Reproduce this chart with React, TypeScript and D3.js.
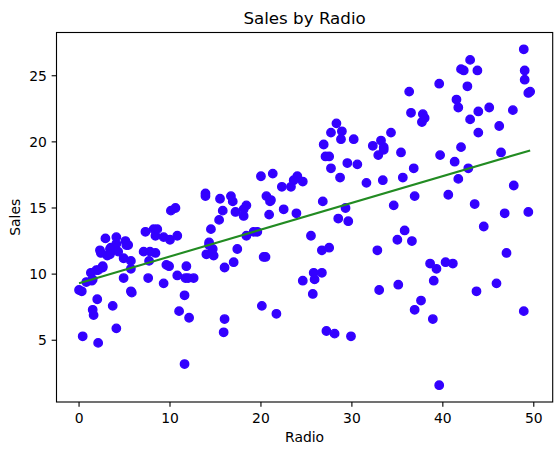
import React from 'react';
import * as d3 from 'd3';

// Radio budget and Sales for each market (200 rows)
const radio: number[] = [
  37.8, 39.3, 45.9, 41.3, 10.8, 48.9, 32.8, 19.6, 2.1, 2.6,
  5.8, 24, 35.1, 7.6, 32.9, 47.7, 36.6, 39.6, 20.5, 23.9,
  27.7, 5.1, 15.9, 16.9, 12.6, 3.5, 29.3, 16.7, 27.1, 16,
  28.3, 17.4, 1.5, 20, 1.4, 4.1, 43.8, 49.4, 26.7, 37.7,
  22.3, 33.4, 27.7, 8.4, 25.7, 22.5, 9.9, 41.5, 15.8, 11.7,
  3.1, 9.6, 41.7, 46.2, 28.8, 49.4, 28.1, 19.2, 49.6, 29.5,
  2, 42.7, 15.5, 29.6, 42.8, 9.3, 24.6, 14.5, 27.5, 43.9,
  30.6, 14.3, 33, 5.7, 24.6, 43.7, 1.6, 28.5, 29.9, 7.7,
  26.7, 4.1, 20.3, 44.5, 43, 18.4, 27.5, 40.6, 25.5, 47.8,
  4.9, 1.5, 33.5, 36.5, 14, 31.6, 3.5, 21, 42.3, 41.7,
  4.3, 36.3, 10.1, 17.2, 34.3, 46.4, 11, 0.3, 0.4, 26.9,
  8.2, 38, 15.4, 20.6, 46.8, 35, 14.3, 0.8, 36.9, 16,
  26.8, 21.7, 2.4, 34.6, 32.3, 11.8, 38.9, 0, 49, 12,
  39.6, 2.9, 27.2, 33.5, 38.6, 47, 39, 28.9, 25.9, 43.9,
  17, 35.4, 33.2, 5.7, 14.8, 1.9, 7.3, 49, 40.3, 25.8,
  13.9, 8.4, 23.3, 39.7, 21.1, 11.6, 43.5, 1.3, 36.9, 18.4,
  18.1, 35.8, 18.1, 36.8, 14.7, 3.4, 37.6, 5.2, 23.6, 10.6,
  11.6, 20.9, 20.1, 7.1, 3.4, 48.9, 30.2, 7.8, 2.3, 10,
  2.6, 5.4, 5.7, 43, 21.3, 45.1, 2.1, 28.7, 13.9, 12.1,
  41.1, 10.8, 4.1, 42, 35.6, 3.7, 4.9, 9.3, 42, 8.6,
];

const sales: number[] = [
  22.1, 10.4, 9.3, 18.5, 12.9, 7.2, 11.8, 13.2, 4.8, 10.6,
  8.6, 17.4, 9.2, 9.7, 19, 22.4, 12.5, 24.4, 11.3, 14.6,
  18, 12.5, 5.6, 15.5, 9.7, 12, 15, 15.9, 18.9, 10.5,
  21.4, 11.9, 9.6, 17.4, 9.5, 12.8, 25.4, 14.7, 10.1, 21.5,
  16.6, 17.1, 20.7, 12.9, 8.5, 14.9, 10.6, 23.2, 14.8, 9.7,
  11.4, 10.7, 22.6, 21.2, 20.2, 23.7, 5.5, 13.2, 23.8, 18.4,
  8.1, 24.2, 15.7, 14, 18, 9.3, 9.5, 13.4, 18.9, 22.3,
  18.3, 12.4, 8.8, 11, 17, 8.7, 6.9, 14.2, 5.3, 11,
  11.8, 12.3, 11.3, 13.6, 21.7, 15.2, 12, 16, 12.9, 16.7,
  11.2, 7.3, 19.4, 22.2, 11.5, 16.9, 11.7, 15.5, 25.4, 17.2,
  11.7, 23.8, 14.8, 14.7, 20.7, 19.2, 7.2, 8.7, 5.3, 19.8,
  13.4, 21.8, 14.1, 15.9, 14.6, 12.6, 12.2, 9.4, 15.9, 6.6,
  15.5, 7, 11.6, 15.2, 19.7, 10.6, 6.6, 8.8, 24.7, 9.7,
  1.6, 12.7, 5.7, 19.6, 10.8, 11.6, 9.5, 20.8, 9.6, 20.7,
  10.9, 19.2, 20.1, 10.4, 11.4, 10.3, 13.2, 25.4, 10.9, 10.1,
  16.1, 11.6, 16.6, 19, 15.6, 3.2, 15.3, 10.1, 7.3, 12.9,
  14.4, 13.3, 14.9, 18, 11.9, 11.9, 8, 12.2, 17.1, 15,
  8.4, 14.5, 7.6, 11.7, 11.5, 27, 20.2, 11.7, 11.8, 12.6,
  10.5, 12.2, 8.7, 26.2, 17.6, 22.6, 10.3, 17.3, 15.9, 6.7,
  10.8, 9.9, 5.9, 19.6, 17.3, 7.6, 9.7, 12.8, 25.5, 13.4,
];

const xTicks = [0, 10, 20, 30, 40, 50];
const yTicks = [5, 10, 15, 20, 25];

const W = 557;
const H = 451;
const plot = { left: 56.5, right: 552.7, top: 32.5, bottom: 402 };
const font = 'DejaVu Sans, sans-serif';
const dotColor = '#3300ff';
const lineColor = '#228b22';

export default function App() {
  const [xMin, xMax] = d3.extent(radio) as [number, number];
  const [yMin, yMax] = d3.extent(sales) as [number, number];
  const xPad = (xMax - xMin) * 0.05;
  const yPad = (yMax - yMin) * 0.05;

  const x = d3.scaleLinear().domain([xMin - xPad, xMax + xPad]).range([plot.left, plot.right]);
  const y = d3.scaleLinear().domain([yMin - yPad, yMax + yPad]).range([plot.bottom, plot.top]);

  // least squares fit of sales on radio
  const mx = d3.mean(radio) as number;
  const my = d3.mean(sales) as number;
  const slope =
    (d3.sum(radio, (r, i) => (r - mx) * (sales[i] - my)) as number) /
    (d3.sum(radio, (r) => (r - mx) ** 2) as number);
  const intercept = my - slope * mx;
  const fit = [xMin, xMax].map((r) => [r, intercept + slope * r] as [number, number]);
  const line = d3.line<[number, number]>().x((d) => x(d[0])).y((d) => y(d[1]));

  const tick = 4.86;

  return (
    <svg width={W} height={H} style={{ position: 'absolute', left: 0, top: 0 }} fontFamily={font}>
      <rect width={W} height={H} fill="#fff" />
      <text x={(plot.left + plot.right) / 2} y={24} textAnchor="middle" fontSize={16.7}>
        Sales by Radio
      </text>

      {radio.map((r, i) => (
        <circle key={i} cx={x(r)} cy={y(sales[i])} r={4.2} fill={dotColor} stroke={dotColor} strokeWidth={1.39} />
      ))}
      <path d={line(fit) || ''} fill="none" stroke={lineColor} strokeWidth={2.08} />

      <rect
        x={plot.left}
        y={plot.top}
        width={plot.right - plot.left}
        height={plot.bottom - plot.top}
        fill="none"
        stroke="#000"
        strokeWidth={1.11}
      />

      {xTicks.map((t) => (
        <g key={t} transform={`translate(${x(t)},${plot.bottom})`}>
          <line y2={tick} stroke="#000" strokeWidth={1.11} />
          <text y={21} textAnchor="middle" fontSize={13.9}>
            {t}
          </text>
        </g>
      ))}
      {yTicks.map((t) => (
        <g key={t} transform={`translate(${plot.left},${y(t)})`}>
          <line x2={-tick} stroke="#000" strokeWidth={1.11} />
          <text x={-9.7} dy="0.35em" textAnchor="end" fontSize={13.9}>
            {t}
          </text>
        </g>
      ))}

      <text x={(plot.left + plot.right) / 2} y={442} textAnchor="middle" fontSize={13.9}>
        Radio
      </text>
      <text transform={`translate(20,${(plot.top + plot.bottom) / 2}) rotate(-90)`} textAnchor="middle" fontSize={13.9}>
        Sales
      </text>
    </svg>
  );
}
